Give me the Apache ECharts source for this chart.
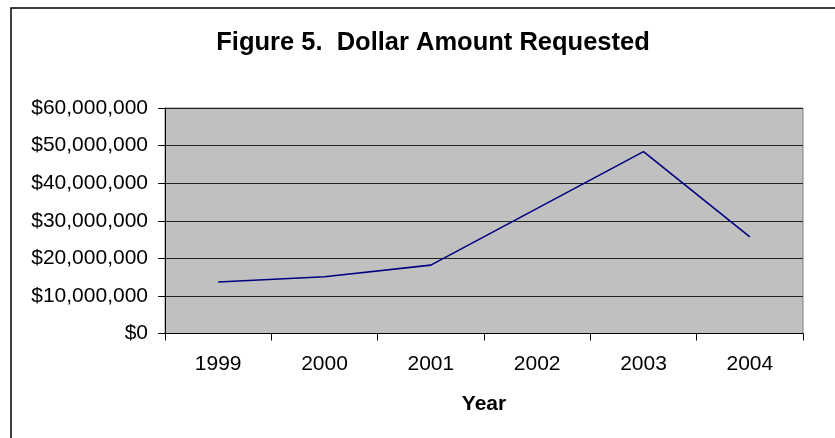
<!DOCTYPE html>
<html>
<head>
<meta charset="utf-8">
<script src="https://cdn.jsdelivr.net/npm/echarts@6/dist/echarts.min.js"></script>
<style>
html,body{margin:0;padding:0;background:#fff;}
#chart{width:835px;height:438px;}
</style>
</head>
<body>
<div id="chart"></div>
<script>
var years = ['1999', '2000', '2001', '2002', '2003', '2004'];
var amounts = [13700000, 15100000, 18200000, 33300000, 48400000, 25700000];
var titleText = 'Figure 5.  Dollar Amount Requested';
var xAxisTitle = 'Year';

function money(v) {
  return '$' + String(v).replace(/\B(?=(\d{3})+(?!\d))/g, ',');
}

var chart = echarts.init(document.getElementById('chart'), null, {renderer: 'canvas'});
chart.setOption({
  backgroundColor: '#ffffff',
  animation: false,
  title: {
    text: titleText,
    left: 428,
    top: 25,
    textAlign: 'center',
    textStyle: {
      fontFamily: 'Liberation Sans, Arial, sans-serif',
      fontWeight: 'bold',
      fontSize: 25.5,
      color: '#000'
    }
  },
  graphic: [{
    type: 'rect',
    shape: {x: 11, y: 8, width: 900, height: 500},
    style: {fill: 'none', stroke: '#000', lineWidth: 1.5},
    silent: true,
    z: -1
  }],
  grid: {
    left: 165, right: 32, top: 108, bottom: 104.5,
    show: true,
    backgroundColor: '#c0c0c0',
    borderColor: '#808080',
    borderWidth: 1
  },
  xAxis: {
    type: 'category',
    data: years,
    boundaryGap: true,
    name: xAxisTitle,
    nameLocation: 'middle',
    nameGap: 60,
    nameTextStyle: {
      fontFamily: 'Liberation Sans, Arial, sans-serif',
      fontWeight: 'bold',
      fontSize: 21,
      color: '#000'
    },
    axisLine: {lineStyle: {color: '#000', width: 1}},
    axisTick: {show: true, length: 7, inside: false, alignWithLabel: false, lineStyle: {color: '#000'}},
    axisLabel: {
      margin: 20,
      fontFamily: 'Liberation Sans, Arial, sans-serif',
      fontSize: 21,
      color: '#000'
    },
    splitLine: {show: false}
  },
  yAxis: {
    type: 'value',
    min: 0,
    max: 60000000,
    interval: 10000000,
    axisLine: {show: true, lineStyle: {color: '#000', width: 1}},
    axisTick: {show: true, length: 7, lineStyle: {color: '#000'}},
    axisLabel: {
      margin: 17,
      fontFamily: 'Liberation Sans, Arial, sans-serif',
      fontSize: 21,
      color: '#000',
      formatter: money
    },
    splitLine: {show: true, lineStyle: {color: '#222', width: 1}}
  },
  series: [{
    type: 'line',
    data: amounts,
    symbol: 'none',
    lineStyle: {color: '#000080', width: 1.6},
    itemStyle: {color: '#000080'}
  }]
});
</script>
</body>
</html>
